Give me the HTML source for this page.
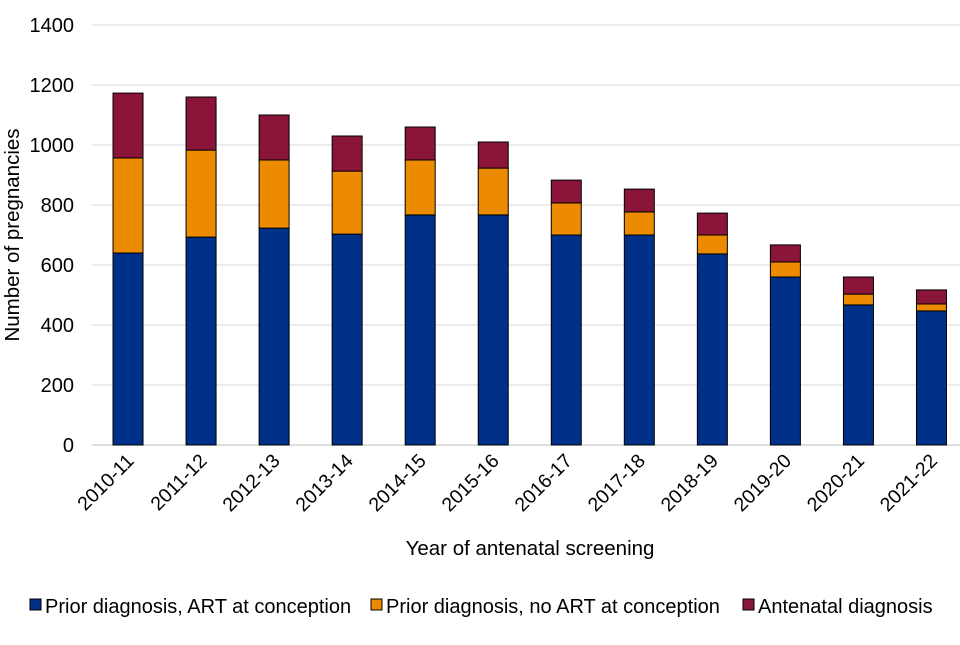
<!DOCTYPE html>
<html><head><meta charset="utf-8"><style>
body{margin:0;background:#fff;font-family:"Liberation Sans",sans-serif;}
</style></head><body>
<svg width="960" height="640" font-family="Liberation Sans, sans-serif">
<g id="grid"></g>
<g id="bars"></g>
<g id="yt" font-size="20" fill="#000" text-anchor="end"></g>
<g id="xt" font-size="19.5" fill="#000"></g>
<text transform="translate(19,235) rotate(-90)" text-anchor="middle" font-size="20.5">Number of pregnancies</text>
<text x="530" y="555" text-anchor="middle" font-size="20.5">Year of antenatal screening</text>
<g font-size="20">
<g><rect x="30" y="599" width="11" height="11" fill="#003087" stroke="#000"/><text x="45" y="613">Prior diagnosis, ART at conception</text></g>
<g><rect x="371" y="599" width="11" height="11" fill="#ED8B00" stroke="#000"/><text x="386" y="613">Prior diagnosis, no ART at conception</text></g>
<g><rect x="743" y="599" width="11" height="11" fill="#8A1538" stroke="#000"/><text x="758" y="613">Antenatal diagnosis</text></g>
</g>
</svg>
<script>
const categories=["2010-11","2011-12","2012-13","2013-14","2014-15","2015-16","2016-17","2017-18","2018-19","2019-20","2020-21","2021-22"];
const artValues=[640,693,723,703,767,767,700,700,637,560,467,447];
const noArtValues=[317,290,227,210,183,156,107,77,63,50,36,23];
const antenatalValues=[216,177,150,117,110,87,76,76,73,57,57,47];
const yTicks=[0,200,400,600,800,1000,1200,1400];
const colors=["#003087","#ED8B00","#8A1538"];
const ns="http://www.w3.org/2000/svg";
const x0=91.5,x1=968,y0=445,y1=25,yMax=1400;
const band=(x1-x0)/categories.length;
const yS=v=>y0-(v/yMax)*(y0-y1);
const xC=i=>x0+band*(i+0.5);
function mk(t,a,p){const e=document.createElementNS(ns,t);for(const k in a)e.setAttribute(k,a[k]);p.appendChild(e);return e;}
const grid=document.getElementById('grid'),yt=document.getElementById('yt'),xt=document.getElementById('xt'),bars=document.getElementById('bars');
yTicks.forEach(v=>{
 const l=mk('line',{x1:x0,x2:960,y1:yS(v),y2:yS(v),stroke:v===0?'#bfbfbf':'#d9d9d9'},grid);
 
 
 const t=mk('text',{x:74,y:yS(v)+7},yt);t.textContent=v;
 
 
});
const series=[artValues,noArtValues,antenatalValues];
const names=['art','no-art','antenatal'];
categories.forEach((c,i)=>{
 let base=0;
 series.forEach((s,j)=>{
  const r=mk('rect',{x:xC(i)-15,width:30,y:yS(base+s[i]),height:yS(base)-yS(base+s[i]),fill:colors[j],stroke:'#000','stroke-width':1},bars);
  
  
  base+=s[i];
 });
 const t=mk('text',{transform:`translate(${xC(i)+7},462) rotate(-45)`,'text-anchor':'end'},xt);t.textContent=c;
 
 
});
</script>
</body></html>
